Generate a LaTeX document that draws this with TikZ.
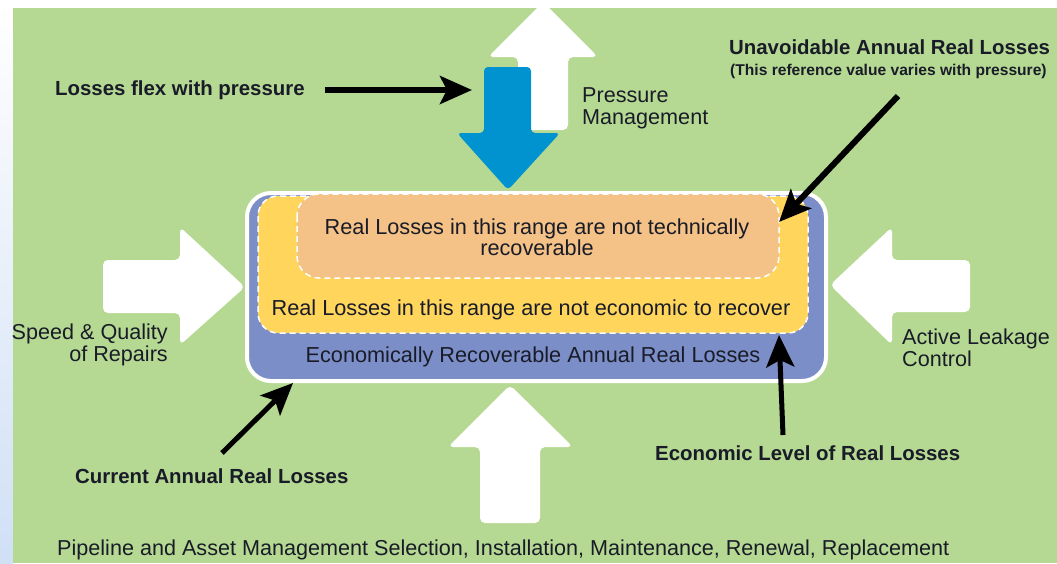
\documentclass[tikz,border=0pt]{standalone}
\usepackage{fontspec}
\setmainfont{Liberation Sans}
\usetikzlibrary{arrows.meta,positioning}

\definecolor{lawn}{RGB}{181,217,146}
\definecolor{band}{RGB}{124,142,199}
\definecolor{amber}{RGB}{255,213,92}
\definecolor{peach}{RGB}{244,194,134}
\definecolor{pipeblue}{RGB}{0,147,208}
\definecolor{edgeblue}{RGB}{208,224,245}
\definecolor{ink}{RGB}{25,28,40}

\begin{document}
\begin{tikzpicture}[x=1pt,y=-1pt,
    blockarrow/.style={fill=white,rounded corners=5pt},
    zone/.style={draw=white,line width=1.5pt,dash pattern=on 6pt off 4pt},
    callout/.style={line width=6pt,-{Stealth[length=32pt,width=28pt,inset=7pt]}},
    heading/.style={text=ink,inner sep=0pt,font=\fontsize{20.4}{22}\selectfont\bfseries},
    plain/.style={text=ink,inner sep=0pt,font=\fontsize{21.6}{22}\selectfont},
    boxtext/.style={text=ink,font=\fontsize{21.7}{21}\selectfont,align=center}
    ]

    % page edges and green ground
    \useasboundingbox (0,0) rectangle (1057,563);
    \shade[top color=white,bottom color=edgeblue] (0,0) rectangle (13,563);
    \fill[lawn] (13,8) rectangle (1057,563);

    % the four pushing arrows
    \fill[blockarrow] (518,130) -- (518,57) -- (488,57) -- (543,2) -- (598,57)
      -- (568,57) -- (568,130) -- cycle;
    \fill[pipeblue,rounded corners=4pt] (484,67) -- (531,67) -- (531,133) -- (560,133)
      -- (508,190) -- (457,133) -- (484,133) -- cycle;
    \fill[blockarrow] (103,260) -- (180,260) -- (180,227) -- (245,287) -- (180,345)
      -- (180,313) -- (103,313) -- cycle;
    \fill[blockarrow] (970,260) -- (892,260) -- (892,227) -- (830,285) -- (892,345)
      -- (892,312) -- (970,312) -- cycle;
    \fill[blockarrow] (480,523) -- (480,447) -- (448,447) -- (510,385) -- (573,447)
      -- (540,447) -- (540,523) -- cycle;

    % nested loss zones
    \draw[white,line width=4pt,fill=band,rounded corners=24pt] (247,193) rectangle (826,381);
    \draw[zone,fill=amber,rounded corners=20pt] (258,196) rectangle (808,333);
    \draw[zone,fill=peach,rounded corners=22pt] (297,194) rectangle (779,278);

    \node[boxtext] (tech) at (537,237) {Real Losses in this range are not technically\\recoverable};
    \node[boxtext] (econ) at (531,310) {Real Losses in this range are not economic to recover};
    \node[boxtext] (recov) at (533,357) {Economically Recoverable Annual Real Losses};

    % labels round the arrows
    \node[heading,anchor=west] (flex) at (55,90) {Losses flex with pressure};
    \node[plain,anchor=north west,align=left] (pm) at (582,87) {Pressure\\Management};
    \node[heading,anchor=west] (unav) at (729,47) {Unavoidable Annual Real Losses};
    \node[heading,font=\fontsize{15.6}{16}\selectfont\bfseries,anchor=west] (unavnote) at (730,71)
      {(This reference value varies with pressure)};
    \node[plain,anchor=north east,align=right] (speed) at (168,324) {Speed \& Quality\\of Repairs};
    \node[plain,anchor=north west,align=left] (alc) at (902,329) {Active Leakage\\Control};
    \node[heading,anchor=west] (cur) at (75,476) {Current Annual Real Losses};
    \node[heading,anchor=west] (ecol) at (655,453) {Economic Level of Real Losses};
    \node[plain,anchor=west] (pipe) at (57,550)
      {Pipeline and Asset Management Selection, Installation, Maintenance, Renewal, Replacement};

    % callout arrows
    \coordinate (flexfoot) at (325,90);
    \coordinate (flextip) at (472,90);
    \coordinate (unavfoot) at (898,96);
    \coordinate (unavtip) at (779,222);
    \coordinate (curfoot) at (222,453);
    \coordinate (curtip) at (293,383);
    \coordinate (ecolfoot) at (783,435);
    \coordinate (ecoltip) at (779,335);

    \draw[callout] (flexfoot) -- (flextip);
    \draw[callout] (unavfoot) -- (unavtip);
    \draw[callout,line width=5pt] (curfoot) -- (curtip);
    \draw[callout,line width=5pt] (ecolfoot) -- (ecoltip);

\end{tikzpicture}
\end{document}
